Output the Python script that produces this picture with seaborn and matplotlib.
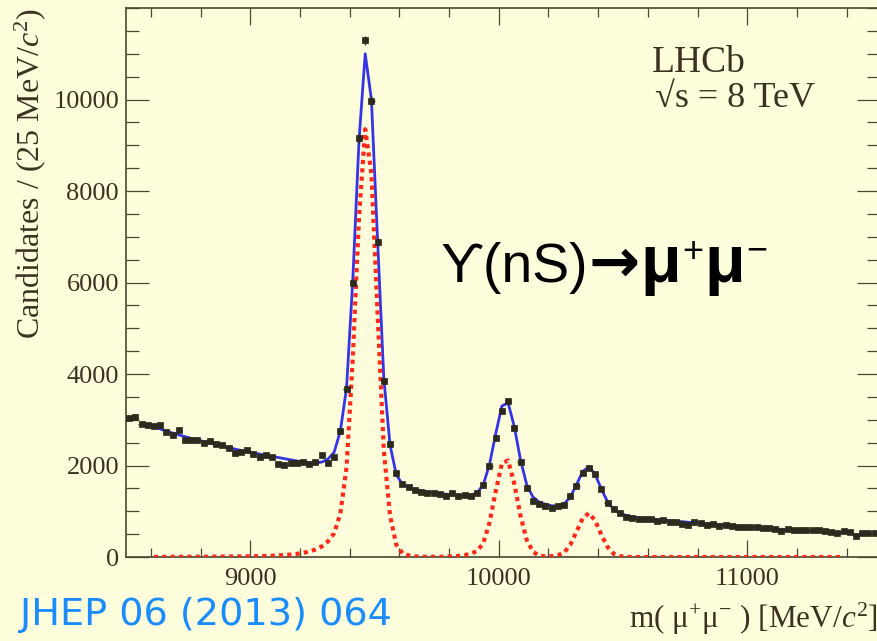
import numpy as np
import pandas as pd
import matplotlib
matplotlib.use('Agg')
import matplotlib.pyplot as plt
from matplotlib.ticker import MultipleLocator, FixedLocator
import seaborn as sns

# Histogram of m(mu+mu-): 25 MeV bins, first bin centre 8512.5 MeV
bin_width = 25.0
first_bin = 8512.5
counts = [
    3040, 3060, 2915, 2880, 2860, 2880, 2735, 2660, 2785, 2550,
    2565, 2565, 2495, 2535, 2480, 2450, 2390, 2275, 2290, 2335,
    2260, 2190, 2230, 2190, 2040, 2015, 2055, 2045, 2070, 2030,
    2070, 2230, 2055, 2190, 2755, 3665, 6000, 9150, 11290, 9970,
    6880, 3840, 2460, 1845, 1590, 1530, 1470, 1430, 1405, 1390,
    1375, 1330, 1390, 1330, 1350, 1330, 1390, 1585, 1990, 2610,
    3200, 3410, 2820, 2080, 1500, 1228, 1149, 1112, 1075, 1112,
    1134, 1330, 1555, 1839, 1956, 1804, 1476, 1184, 1040, 953,
    870, 850, 830, 840, 835, 790, 800, 760, 770, 730,
    700, 760, 740, 690, 720, 680, 690, 670, 660, 650,
    660, 665, 640, 630, 620, 560, 610, 590, 590, 580,
    600, 590, 570, 550, 530, 560, 555, 470, 530, 535, 520,
]

# Fit curves read at the bin centres of the fit range (from 8612.5 MeV)
fit_first = 8612.5
fit_total = [
    2850, 2800, 2755, 2710, 2670, 2630, 2595, 2560, 2525, 2490,
    2460, 2430, 2395, 2360, 2330, 2300, 2275, 2250, 2225, 2200,
    2175, 2150, 2125, 2100, 2080, 2065, 2060, 2075, 2140, 2290,
    2750, 3700, 6050, 9100, 11000, 10000, 6900, 3900, 2450, 1800,
    1590, 1525, 1480, 1450, 1425, 1405, 1390, 1375, 1360, 1350,
    1345, 1350, 1400, 1580, 2020, 2690, 3300, 3370, 2850, 2120,
    1580, 1310, 1200, 1155, 1120, 1120, 1160, 1310, 1580, 1870,
    1975, 1810, 1490, 1210, 1040, 960, 910, 880, 860, 845,
    832, 820, 808, 796, 784, 772, 760, 750, 740, 730,
    720, 709, 698, 687, 676, 665, 655, 645, 635, 625,
    616, 607, 598, 590, 582, 574, 566, 558, 550, 543,
    536, 529,
]
fit_signal = [
    4, 4, 5, 5, 5, 6, 6, 7, 7, 8,
    9, 10, 11, 12, 13, 15, 17, 20, 24, 29,
    35, 44, 55, 69, 91, 120, 165, 230, 340, 520,
    950, 1960, 4340, 7420, 9350, 8375, 5300, 2325, 900, 270,
    80, 35, 15, 8, 5, 4, 5, 8, 14, 24,
    42, 75, 130, 300, 750, 1430, 2050, 2110, 1600, 900,
    370, 115, 30, 12, 18, 40, 95, 265, 550, 845,
    960, 800, 490, 220, 72, 18, 4, 1, 0, 0,
    0, 0, 0, 0, 0, 0, 0, 0, 0, 0,
    0, 0, 0, 0, 0, 0, 0, 0, 0, 0,
    0, 0, 0, 0, 0, 0, 0, 0, 0, 0,
    0, 0,
]

y_labels = [0, 2000, 4000, 6000, 8000, 10000]
x_labels = [9000, 10000, 11000]

data = pd.DataFrame({'mass': first_bin + bin_width * np.arange(len(counts)),
                     'counts': counts})
fit = pd.DataFrame({'mass': fit_first + bin_width * np.arange(len(fit_total)),
                    'total': fit_total, 'signal': fit_signal})

# Style
sns.set_style('ticks')
plt.rcParams['font.family'] = ['Liberation Serif', 'DejaVu Serif']
plt.rcParams['mathtext.fontset'] = 'custom'
plt.rcParams['mathtext.rm'] = 'Liberation Serif'
plt.rcParams['mathtext.it'] = 'Liberation Serif:italic'

bg = '#fefedc'
ink = '#3b3322'
frame = '#4a4733'

fig = plt.figure(figsize=(8.78, 6.41), dpi=100, facecolor=bg)
ax = fig.add_axes([0.1435, 0.131, 0.8588, 0.8565])
ax.set_facecolor(bg)

# fit curves
sns.lineplot(data=fit, x='mass', y='total', ax=ax, color='#3535e6',
             linewidth=2.0, zorder=2)
sns.lineplot(data=fit, x='mass', y='signal', ax=ax, color='#ff2a1a',
             linewidth=3.0, linestyle=(0, (1.0, 1.0)), zorder=3)

# data points with error bars
ax.errorbar(data['mass'], data['counts'], xerr=bin_width / 2,
            yerr=np.sqrt(data['counts']), fmt='none', ecolor='#2b2a1c',
            elinewidth=1.0, zorder=4)
sns.scatterplot(data=data, x='mass', y='counts', ax=ax, marker='s', s=18,
                color='#2b2a1c', edgecolor='#2b2a1c', linewidth=0.5, zorder=5)

# axes
ax.set_xlim(8500, 11534)
ax.set_ylim(0, 12000)
ax.xaxis.set_major_locator(FixedLocator(x_labels))
ax.xaxis.set_minor_locator(MultipleLocator(200))
ax.yaxis.set_major_locator(FixedLocator(y_labels))
ax.yaxis.set_minor_locator(MultipleLocator(500))

ax.tick_params(which='both', direction='in', top=True, right=True,
               colors=frame, labelcolor=ink, labelsize=19, width=0.9)
ax.tick_params(axis='x', which='major', length=12.5, pad=8)
ax.tick_params(axis='x', which='minor', length=6.5)
ax.tick_params(axis='y', which='major', length=16.5, pad=5)
ax.tick_params(axis='y', which='minor', length=9.3)
for sp in ax.spines.values():
    sp.set_color(frame)
    sp.set_linewidth(1.2)

ax.set_ylabel('Candidates / (25 MeV/$c^{2}$)', fontsize=23, color=ink, loc='top')
ax.yaxis.set_label_coords(-0.104, 1.0)
ax.set_xlabel('m( $\\mathrm{\u03bc}^{+}\\mathrm{\u03bc}^{-}$ ) [MeV/$c^{2}$]',
              fontsize=22.5, color=ink, loc='right')
ax.xaxis.set_label_coords(0.997, -0.08)

# annotations
fig.text(652 / 878, 1 - 72 / 641, 'LHCb', fontsize=27, color=ink, va='baseline')
fig.text(655 / 878, 1 - 107 / 641, '\u221as = 8 TeV', fontsize=26, color=ink,
         va='baseline')
fig.text(20 / 878, 1 - 625 / 641, 'JHEP 06 (2013) 064', fontsize=27.5,
         color='#1a8cff', va='baseline', family=['DejaVu Sans'])

# decay label, written piece by piece
renderer = fig.canvas.get_renderer()
sans = ['Liberation Sans', 'DejaVu Sans']
pieces = [
    ('\u03d2(nS)', 40, 'normal', sans, 0),
    ('\u2192', 44, 'bold', ['DejaVu Sans'], 0),
    ('\u03bc', 48, 'bold', sans, 0),
    ('+', 26, 'normal', sans, 20),
    ('\u03bc', 48, 'bold', sans, 0),
    ('\u2212', 26, 'normal', sans, 22),
]
x_px = 440.0
base_px = 282.0
for txt, size, weight, fam, rise in pieces:
    t = fig.text(x_px / 878, 1 - (base_px - rise) / 641, txt, fontsize=size,
                 fontweight=weight, family=fam, color='black', va='baseline')
    bb = t.get_window_extent(renderer=renderer)
    x_px = bb.x1 + 1

fig.savefig('out.png', dpi=100, facecolor=bg)
